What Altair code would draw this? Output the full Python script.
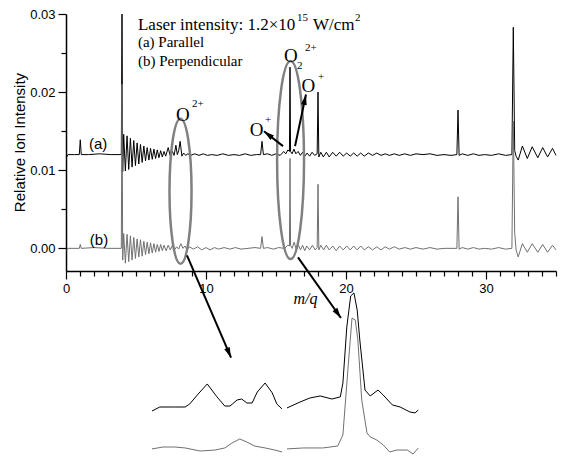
import altair as alt
import pandas as pd

# ---------------- main spectra (m/q, relative ion intensity) ----------------
# (a) parallel polarisation (offset baseline 0.012)
a_mq = [0.05, 0.15, 0.6, 0.95, 1.02, 1.09, 1.6, 2.4, 3.2, 3.95, 4.00, 4.05,
        4.12, 4.24, 4.36, 4.48, 4.60, 4.72, 4.84, 4.96, 5.08, 5.20, 5.32, 5.44,
        5.56, 5.68, 5.80, 5.92, 6.04, 6.16, 6.28, 6.40, 6.52, 6.64, 6.76, 6.88,
        7.00, 7.12, 7.30, 7.45, 7.60, 7.72, 7.85, 7.95, 8.05, 8.15, 8.28, 8.40,
        8.55, 8.70, 8.9, 9.2, 9.5, 9.8, 10.1, 10.4, 10.8, 11.2, 11.6, 12.0,
        12.4, 12.8, 13.2, 13.6, 13.9, 14.0, 14.1, 14.4, 14.7, 15.0, 15.3, 15.55,
        15.7, 15.85, 15.96, 16.0, 16.04, 16.15, 16.28, 16.42, 16.58, 16.74, 16.9,
        17.06, 17.22, 17.4, 17.58, 17.76, 17.94, 18.0, 18.06, 18.2, 18.38, 18.6,
        18.8, 19.05, 19.3, 19.55, 19.8, 20.05, 20.3, 20.55, 20.8, 21.05, 21.3,
        21.6, 21.9, 22.2, 22.5, 22.8, 23.1, 23.45, 23.8, 24.2, 24.6, 25.0, 25.5,
        26.0, 26.5, 27.0, 27.5, 27.92, 28.0, 28.08, 28.3, 28.7, 29.1, 29.5, 29.9,
        30.4, 30.9, 31.4, 31.85, 31.95, 32.05, 32.15, 32.3, 32.6, 32.95, 33.3,
        33.7, 34.05, 34.4, 34.75, 35.0]
a_int = [0.0117, 0.0120, 0.0120, 0.0120, 0.0139, 0.0120, 0.0120, 0.0121, 0.0120, 0.0120, 0.0300, 0.0098,
         0.0146, 0.0099, 0.0144, 0.0101, 0.0141, 0.0104, 0.0138, 0.0106, 0.0135, 0.0108, 0.0133, 0.0110,
         0.0131, 0.0112, 0.0129, 0.0113, 0.0128, 0.0114, 0.0127, 0.0115, 0.0126, 0.0116, 0.0125, 0.0117,
         0.0124, 0.0118, 0.0129, 0.0118, 0.0124, 0.0119, 0.0132, 0.0120, 0.0125, 0.0137, 0.0118, 0.0122,
         0.0119, 0.0121, 0.0119, 0.0121, 0.0119, 0.0121, 0.0119, 0.0120, 0.0119, 0.0121, 0.0119, 0.0120,
         0.0119, 0.0121, 0.0119, 0.0120, 0.0120, 0.0137, 0.0120, 0.0121, 0.0119, 0.0121, 0.0119, 0.0124,
         0.0121, 0.0126, 0.0124, 0.0232, 0.0124, 0.0121, 0.0127, 0.0121, 0.0124, 0.0119, 0.0123,
         0.0118, 0.0122, 0.0118, 0.0123, 0.0119, 0.0121, 0.0200, 0.0117, 0.0123, 0.0117, 0.0123,
         0.0117, 0.0123, 0.0118, 0.0123, 0.0118, 0.0122, 0.0118, 0.0122, 0.0118, 0.0122, 0.0118,
         0.0122, 0.0119, 0.0122, 0.0119, 0.0121, 0.0119, 0.0121, 0.0119, 0.0121, 0.0119, 0.0121, 0.0120,
         0.0121, 0.0119, 0.0120, 0.0119, 0.0120, 0.0177, 0.0119, 0.0121, 0.0119, 0.0121, 0.0119, 0.0120,
         0.0119, 0.0121, 0.0119, 0.0120, 0.0283, 0.0125, 0.0118, 0.0113, 0.0131, 0.0115, 0.0130,
         0.0116, 0.0129, 0.0117, 0.0128, 0.0119]

# (b) perpendicular polarisation
b_mq = [0.05, 0.12, 0.95, 1.02, 1.09, 2.0, 3.0, 3.95, 4.00, 4.05,
        4.12, 4.24, 4.36, 4.48, 4.60, 4.72, 4.84, 4.96, 5.08, 5.20, 5.32, 5.44,
        5.56, 5.68, 5.80, 5.92, 6.04, 6.16, 6.28, 6.40, 6.52, 6.64, 6.76, 6.88,
        7.00, 7.15, 7.30, 7.45, 7.60, 7.75, 7.90, 8.05, 8.20, 8.35, 8.50, 8.65,
        8.80, 9.1, 9.4, 9.7, 10.0, 10.3, 10.6, 10.9, 11.3, 11.7, 12.1, 12.5, 13.0,
        13.5, 13.9, 14.0, 14.1, 14.4, 14.8, 15.2, 15.6, 15.85, 15.96, 16.0, 16.04,
        16.15, 16.3, 16.45, 16.6, 16.75, 16.9, 17.05, 17.2, 17.4, 17.6, 17.8, 17.94,
        18.0, 18.06, 18.2, 18.4, 18.6, 18.8, 19.05, 19.3, 19.55, 19.8, 20.05, 20.3,
        20.55, 20.8, 21.05, 21.3, 21.6, 21.9, 22.2, 22.5, 22.8, 23.1, 23.45, 23.8,
        24.2, 24.6, 25.0, 25.5, 26.0, 26.5, 27.0, 27.5, 27.92, 28.0, 28.08, 28.3,
        28.7, 29.1, 29.5, 29.9, 30.4, 30.9, 31.4, 31.85, 31.95, 32.05, 32.15, 32.3,
        32.6, 32.95, 33.3, 33.7, 34.05, 34.4, 34.75, 35.0]
b_int = [-0.0003, 0.0000, 0.0000, 0.0005, 0.0000, 0.0001, 0.0000, 0.0000, 0.0210, -0.0015,
         0.0019, -0.0019, 0.0018, -0.0017, 0.0016, -0.0015, 0.0014, -0.0013, 0.0012, -0.0011, 0.0011, -0.0010,
         0.0009, -0.0008, 0.0008, -0.0007, 0.0007, -0.0006, 0.0006, -0.0005, 0.0005, -0.0004, 0.0005, -0.0003,
         0.0004, -0.0003, 0.0004, -0.0002, 0.0004, -0.0002, 0.0002, -0.0001, 0.0006, 0.0000, 0.0003, -0.0002,
         0.0002, -0.0001, 0.0002, -0.0002, 0.0001, -0.0002, 0.0001, -0.0001, 0.0001, -0.0001, 0.0001, -0.0001, 0.0000,
         0.0001, 0.0000, 0.0015, 0.0000, 0.0001, -0.0001, 0.0001, 0.0000, 0.0004, 0.0003, 0.0115, 0.0004,
         0.0000, 0.0008, -0.0002, 0.0004, -0.0002, 0.0004, -0.0003, 0.0003, -0.0002, 0.0004, -0.0002, 0.0001,
         0.0082, -0.0002, 0.0004, -0.0002, 0.0004, -0.0002, 0.0003, -0.0003, 0.0003, -0.0002, 0.0003, -0.0002,
         0.0003, -0.0002, 0.0003, -0.0002, 0.0002, -0.0002, 0.0002, -0.0002, 0.0002, -0.0001, 0.0002, -0.0001,
         0.0001, -0.0001, 0.0001, -0.0001, 0.0001, -0.0001, 0.0000, 0.0000, 0.0000, 0.0066, -0.0001, 0.0001,
         -0.0001, 0.0001, -0.0001, 0.0000, -0.0001, 0.0001, -0.0001, 0.0000, 0.0163, 0.0020, -0.0002, -0.0011,
         0.0006, -0.0005, 0.0006, -0.0005, 0.0005, -0.0005, 0.0004, -0.0002]

# ---------------- magnified insets (m/q, arbitrary units) ----------------
ins1_a_mq = [7.00, 7.12, 7.35, 7.51, 7.58, 7.71, 7.85, 8.00, 8.12, 8.20, 8.31, 8.38, 8.46, 8.54, 8.62, 8.74, 8.85, 8.92, 9.00]
ins1_a_au = [27.5, 30.0, 30.0, 30.0, 31.9, 38.1, 44.4, 36.3, 30.6, 30.6, 34.4, 35.0, 32.5, 32.5, 39.4, 45.0, 38.8, 31.9, 28.8]
ins1_b_mq = [7.00, 7.17, 7.35, 7.51, 7.74, 7.97, 8.12, 8.23, 8.35, 8.46, 8.58, 8.74, 8.89, 9.00]
ins1_b_au = [3.8, 5.0, 5.0, 4.4, 2.5, 3.1, 4.4, 7.5, 10.0, 8.1, 5.6, 4.4, 3.1, 1.9]
ins2_a_mq = [15.00, 15.20, 15.35, 15.51, 15.69, 15.82, 15.86, 15.92, 15.98, 16.03, 16.08, 16.12, 16.20, 16.28, 16.40, 16.48, 16.62, 16.74, 16.89, 16.97, 17.02]
ins2_a_au = [29.4, 33.1, 35.6, 36.9, 35.0, 36.3, 45.0, 80.0, 99.4, 101.3, 90.6, 71.9, 40.6, 36.9, 40.6, 37.5, 31.3, 30.0, 26.9, 26.3, 28.1]
ins2_b_mq = [15.00, 15.25, 15.55, 15.78, 15.86, 15.94, 16.00, 16.05, 16.09, 16.15, 16.23, 16.28, 16.38, 16.48, 16.58, 16.69, 16.85, 16.94, 17.02]
ins2_b_au = [3.8, 4.4, 4.4, 5.6, 12.5, 55.0, 85.6, 84.4, 71.9, 34.4, 13.8, 11.3, 9.4, 6.3, 1.9, 3.1, 3.1, 0.6, 4.4]

# ---------------- annotations ----------------
ell_mq = [8.18, 16.04]
ell_int = [0.0073, 0.0113]
arrow_mq0 = [8.64, 16.57, 15.50, 16.36]
arrow_int0 = [-0.0009, -0.00116, 0.01309, 0.01309]
arrow_mq1 = [11.79, 19.64, 14.14, 17.14]
arrow_int1 = [-0.0140, -0.00892, 0.01498, 0.01969]
arrow_angle = [157, 145, 308, 12]

legend_text = ["Laser intensity: 1.2×10", "15", "W/cm", "2", "(a) Parallel", "(b) Perpendicular"]
legend_mq = [5.14, 16.5, 17.64, 20.64, 5.14, 5.14]
legend_int = [0.02861, 0.02949, 0.02861, 0.02949, 0.02644, 0.02402]
legend_fs = [17, 11, 17, 11, 15, 15]

ion_text = ["O", "O", "O", "O"]
ion_mq = [8.34, 16.07, 17.32, 13.61]
ion_int = [0.0171, 0.02466, 0.02072, 0.01518]
sup_text = ["2+", "2", "2+", "+", "+"]
sup_mq = [9.0, 16.5, 17.07, 18.0, 14.21]
sup_int = [0.01847, 0.02339, 0.02568, 0.02193, 0.01646]

trace_labels = ["(a)", "(b)"]
trace_label_mq = [2.29, 2.36]
trace_label_int = [0.01334, 0.00113]

x_major = [0, 10, 20, 30]
x_minor = [v for v in range(1, 36) if v % 10 != 0]
y_major = [0.0, 0.01, 0.02, 0.03]
y_minor = [0.005, 0.015, 0.025]

SERIF = "Liberation Serif"
SANS = "Liberation Sans"
XDOM = [0, 35]
YDOM = [-0.0029, 0.03]
GRAY = "#707070"

xs = alt.Scale(domain=XDOM, zero=False, nice=False)
ys = alt.Scale(domain=YDOM, zero=False, nice=False)

df_a = pd.DataFrame({"mq": a_mq, "v": a_int})
df_b = pd.DataFrame({"mq": b_mq, "v": b_int})

x_axis = alt.Axis(values=x_major, format="d", orient="bottom", tickSize=8, labelPadding=3,
                  labelFont=SANS, labelFontSize=13, labelColor="black", labelFlush=False,
                  domainColor="black", domainWidth=1.5, tickColor="black", tickWidth=1.2,
                  grid=False, title="m/q", titleFont=SERIF, titleFontStyle="italic",
                  titleFontWeight="normal", titleFontSize=16, titleColor="black",
                  titleX=239, titleY=27, titleBaseline="middle", titleAlign="center")
y_axis = alt.Axis(values=y_major, format=".2f", orient="left", tickSize=8, labelPadding=3,
                  labelFont=SANS, labelFontSize=13, labelColor="black",
                  domainColor="black", domainWidth=1.5, tickColor="black", tickWidth=1.2,
                  grid=False, title="Relative Ion Intensity", titleFont=SANS,
                  titleFontWeight="normal", titleFontSize=15, titleColor="black",
                  titleX=-47, titleY=128, titleAngle=270, titleBaseline="middle", titleAlign="center")
x_minor_axis = alt.Axis(values=x_minor, orient="bottom", tickSize=5, labels=False, domain=False,
                        tickColor="black", tickWidth=1.2, grid=False, title=None)
y_minor_axis = alt.Axis(values=y_minor, orient="left", tickSize=5, labels=False, domain=False,
                        tickColor="black", tickWidth=1.2, grid=False, title=None)

line_a = alt.Chart(df_a).mark_line(color="black", strokeWidth=1).encode(
    x=alt.X("mq:Q", scale=xs, axis=x_axis),
    y=alt.Y("v:Q", scale=ys, axis=y_axis),
    order="mq:Q")
line_b = alt.Chart(df_b).mark_line(color=GRAY, strokeWidth=1).encode(
    x=alt.X("mq:Q", scale=xs, axis=x_minor_axis),
    y=alt.Y("v:Q", scale=ys, axis=y_minor_axis),
    order="mq:Q")


def ellipse_path(a):
    k = 0.5523
    return (f"M 0 -1 C {k*a:.4f} -1 {a:.4f} -{k} {a:.4f} 0 "
            f"C {a:.4f} {k} {k*a:.4f} 1 0 1 "
            f"C -{k*a:.4f} 1 -{a:.4f} {k} -{a:.4f} 0 "
            f"C -{a:.4f} -{k} -{k*a:.4f} -1 0 -1 Z")


def nx(field="mq"):
    return alt.X(f"{field}:Q", scale=xs, axis=None)


def ny(field="v"):
    return alt.Y(f"{field}:Q", scale=ys, axis=None)


ell_df = pd.DataFrame({"mq": ell_mq, "v": ell_int})
ell1 = alt.Chart(ell_df.iloc[[0]]).mark_point(
    shape=ellipse_path(0.152), size=145 ** 2, filled=False, stroke="#808080",
    strokeWidth=2.5, opacity=1).encode(x=nx(), y=ny())
ell2 = alt.Chart(ell_df.iloc[[1]]).mark_point(
    shape=ellipse_path(0.136), size=198 ** 2, filled=False, stroke="#808080",
    strokeWidth=2.5, opacity=1).encode(x=nx(), y=ny())

arr_df = pd.DataFrame({"mq0": arrow_mq0, "v0": arrow_int0, "mq1": arrow_mq1,
                       "v1": arrow_int1, "ang": arrow_angle})
arrows = alt.Chart(arr_df).mark_rule(color="black", strokeWidth=2).encode(
    x=nx("mq0"), y=ny("v0"), x2="mq1:Q", y2="v1:Q")
heads = alt.Chart(arr_df).mark_point(
    shape="M 0 0 L 0.45 1.6 L -0.45 1.6 Z", size=170, filled=True, color="black",
    opacity=1).encode(x=nx("mq1"), y=ny("v1"), angle=alt.Angle("ang:Q", scale=None))

leg_df = pd.DataFrame({"mq": legend_mq, "v": legend_int, "t": legend_text, "fs": legend_fs})
legend = alt.Chart(leg_df).mark_text(font=SERIF, align="left", baseline="middle",
                                     color="black").encode(
    x=nx(), y=ny(), text="t:N", size=alt.Size("fs:Q", scale=None))

ion_df = pd.DataFrame({"mq": ion_mq, "v": ion_int, "t": ion_text})
ions = alt.Chart(ion_df).mark_text(font=SERIF, fontSize=19, align="center", baseline="middle",
                                   color="black").encode(x=nx(), y=ny(), text="t:N")
sup_df = pd.DataFrame({"mq": sup_mq, "v": sup_int, "t": sup_text})
sups = alt.Chart(sup_df).mark_text(font=SERIF, fontSize=11, align="left", baseline="middle",
                                   color="black").encode(x=nx(), y=ny(), text="t:N")
tl_df = pd.DataFrame({"mq": trace_label_mq, "v": trace_label_int, "t": trace_labels})
tlabels = alt.Chart(tl_df).mark_text(font=SANS, fontSize=15, align="center", baseline="middle",
                                     color="black").encode(x=nx(), y=ny(), text="t:N")

main = alt.layer(line_a, line_b, ell1, ell2, arrows, heads, legend, ions, sups, tlabels
                 ).resolve_axis(x="independent", y="independent")

# insets: own scales, placed below the main plot (pixel ranges)
iy = alt.Scale(domain=[0, 100], range=[441, 281], zero=False, nice=False)


def inset(mq_a, au_a, mq_b, au_b, dom, rng):
    sx = alt.Scale(domain=dom, range=rng, zero=False, nice=False)
    da = pd.DataFrame({"mq": mq_a, "au": au_a})
    db = pd.DataFrame({"mq": mq_b, "au": au_b})
    la = alt.Chart(da).mark_line(color="black", strokeWidth=1).encode(
        x=alt.X("mq:Q", scale=sx, axis=None), y=alt.Y("au:Q", scale=iy, axis=None), order="mq:Q")
    lb = alt.Chart(db).mark_line(color=GRAY, strokeWidth=1).encode(
        x=alt.X("mq:Q", scale=sx, axis=None), y=alt.Y("au:Q", scale=iy, axis=None), order="mq:Q")
    return alt.layer(la, lb)


inset1 = inset(ins1_a_mq, ins1_a_au, ins1_b_mq, ins1_b_au, [7.0, 9.0], [86, 216])
inset2 = inset(ins2_a_mq, ins2_a_au, ins2_b_mq, ins2_b_au, [15.0, 17.0], [221, 351])

chart = alt.layer(main, inset1, inset2).resolve_scale(
    x="independent", y="independent"
).properties(
    width=490, height=257,
    autosize=alt.AutoSizeParams(type="none"),
    padding={"left": 58, "top": 6, "right": 3, "bottom": 185},
    background="white",
).configure_view(stroke=None)

chart.save("out.html", embed_options={"renderer": "svg", "actions": False})
